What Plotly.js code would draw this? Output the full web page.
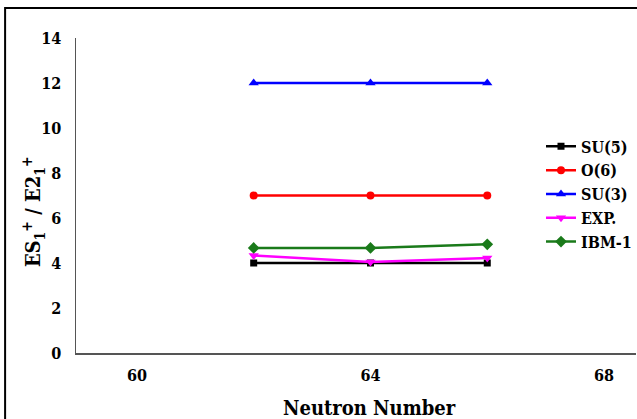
<!DOCTYPE html>
<html>
<head>
<meta charset="utf-8">
<script src="https://cdn.plot.ly/plotly-3.0.1.min.js"></script>
<style>html,body{margin:0;padding:0;background:#fff;}#chart{width:637px;height:419px;}</style>
</head>
<body>
<div id="chart"></div>
<script>
const neutronNumber = [62, 64, 66];
const su5 = [4.0, 4.0, 4.0];
const o6 = [7.0, 7.0, 7.0];
const su3 = [12.0, 12.0, 12.0];
const exp = [4.33, 4.05, 4.22];
const ibm1 = [4.67, 4.67, 4.83];
const seriesNames = ["SU(5)", "O(6)", "SU(3)", "EXP.", "IBM-1"];
const xTicks = [60, 64, 68];
const yTicks = [0, 2, 4, 6, 8, 10, 12, 14];

const FONT = "DejaVu Serif Condensed, DejaVu Serif, serif";
function tr(y, name, color, symbol, size) {
  return {x: neutronNumber, y: y, name: name, type: "scatter", mode: "lines+markers",
    line: {color: color, width: 2.5},
    marker: {color: color, symbol: symbol, size: size}};
}
const data = [
  tr(su5, seriesNames[0], "#000000", "square", 7),
  tr(o6, seriesNames[1], "#ff0000", "circle", 8),
  tr(su3, seriesNames[2], "#0000ff", "triangle-up", 9),
  tr(exp, seriesNames[3], "#ff00ff", "triangle-down", 9),
  tr(ibm1, seriesNames[4], "#1a7a1a", "diamond", 9)
];
const layout = {
  width: 637, height: 419,
  margin: {l: 76, r: 0, t: 38, b: 66},
  paper_bgcolor: "#fff", plot_bgcolor: "#fff",
  font: {family: FONT, color: "#000"},
  showlegend: true,
  legend: {x: 0.83, y: 0.505, xanchor: "left", yanchor: "middle",
    font: {family: FONT, size: 16, weight: "bold"}, bgcolor: "rgba(0,0,0,0)", itemwidth: 30},
  xaxis: {range: [58.957, 68.547], tickvals: xTicks, ticktext: xTicks.map(String),
    showgrid: false, zeroline: false, showline: true, linecolor: "#555", linewidth: 1.5,
    ticks: "", ticklabelstandoff: 7, automargin: false,
    tickfont: {family: FONT, size: 16, weight: "bold"}},
  yaxis: {range: [0, 14], tickvals: yTicks, showgrid: false, zeroline: false, automargin: false,
    showline: true, linecolor: "#555", linewidth: 1.5, ticks: "", ticklabelstandoff: 10,
    tickfont: {family: FONT, size: 16, weight: "bold"}},
  annotations: [
    {text: "Neutron Number", xref: "paper", yref: "paper", x: 0.524, y: -0.1746,
     xanchor: "center", yanchor: "middle", showarrow: false,
     font: {family: FONT, size: 20, weight: "bold"}},
    {text: "ES<sub>1</sub><sup>+</sup> / E2<sub>1</sub><sup>+</sup>", xref: "paper", yref: "paper",
     x: -0.0766, y: 0.4476, xanchor: "center", yanchor: "middle", textangle: -90, showarrow: false,
     font: {family: FONT, size: 20, weight: "bold"}}
  ],
  shapes: [
    {type: "rect", xref: "paper", yref: "paper", x0: -0.1266, x1: 1.3, y0: -0.5, y1: 1.0952,
     line: {color: "#000", width: 2}, fillcolor: "rgba(0,0,0,0)", layer: "above"}
  ]
};
Plotly.newPlot("chart", data, layout, {displayModeBar: false, staticPlot: true});
</script>
</body>
</html>
